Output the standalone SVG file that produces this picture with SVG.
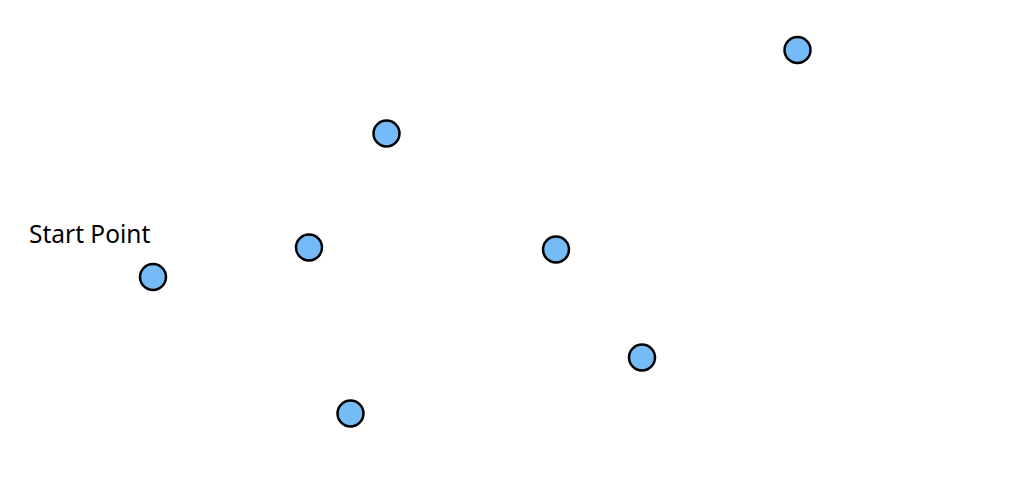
<svg xmlns="http://www.w3.org/2000/svg" width="1014" height="488" viewBox="0 0 1014 488">
<style>
.n{fill:#74bbf8;stroke:#000;stroke-width:2.5}
.t{font-family:"Noto Sans",sans-serif;font-size:24.5px;fill:#000}
</style>
<rect width="1014" height="488" fill="#fff"/>
<g id="connectors"></g>
<g id="start"><text class="t" x="29" y="243">Start Point</text><circle class="n" cx="153" cy="277" r="13"/></g>
<g id="n1"><circle class="n" cx="797.5" cy="50" r="13"/></g>
<g id="n2"><circle class="n" cx="386.5" cy="133.5" r="13"/></g>
<g id="n3"><circle class="n" cx="309" cy="247.5" r="13"/></g>
<g id="n4"><circle class="n" cx="556" cy="249.5" r="13"/></g>
<g id="n5"><circle class="n" cx="642" cy="357.5" r="13"/></g>
<g id="n6"><circle class="n" cx="350.5" cy="413.5" r="13"/></g>
</svg>
